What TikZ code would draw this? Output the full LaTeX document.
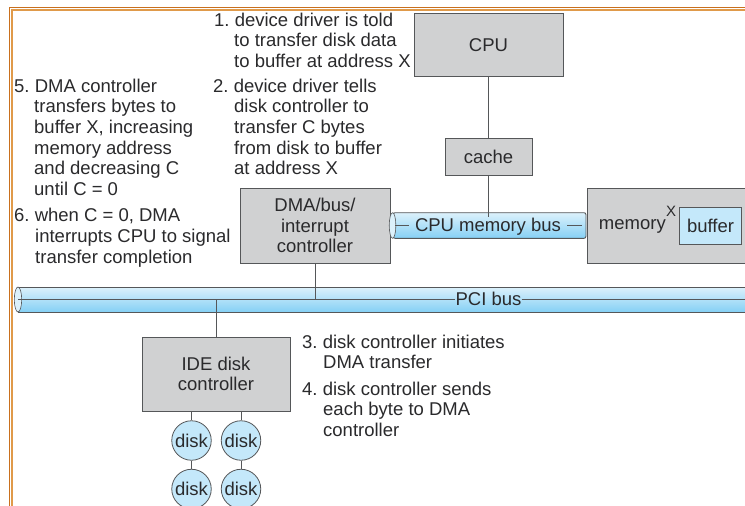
\documentclass[tikz,border=0pt]{standalone}
\usepackage{fontspec}
\setmainfont{Liberation Sans}
\usetikzlibrary{positioning}
\definecolor{framecol}{HTML}{E09A4A}
\definecolor{framedark}{HTML}{C9701E}
\definecolor{boxgray}{HTML}{D0D1D2}
\definecolor{linecol}{HTML}{555759}
\definecolor{diskblue}{HTML}{C4E8FA}
\definecolor{bustop}{HTML}{DCF1FB}
\definecolor{busbot}{HTML}{85D0F5}
\definecolor{textcol}{HTML}{2A2A2C}
\tikzset{
  ctrlbox/.style={draw=linecol,fill=boxgray,line width=0.9pt,align=center,inner sep=0pt,text=textcol,font=\fontsize{18.5}{20.7}\selectfont},
  busbar/.style={draw=linecol,line width=0.9pt,inner sep=0pt,top color=bustop,bottom color=busbot},
  buslabel/.style={inner sep=0pt,text=textcol,font=\fontsize{18.5}{20.7}\selectfont},
  disknode/.style={circle,draw=linecol,fill=diskblue,line width=0.8pt,minimum size=39.5pt,inner sep=0pt,text=textcol,font=\fontsize{18.5}{20.7}\selectfont},
  wire/.style={draw=linecol,line width=0.9pt},
  steptext/.style={anchor=north west,inner sep=0pt,align=left,text=textcol,font=\fontsize{18.5}{20.6}\selectfont\frenchspacing}
}
\begin{document}
\begin{tikzpicture}[x=1pt,y=-1pt]
\useasboundingbox (0,0) rectangle (745,506);
\fill[white] (0,0) rectangle (745,506);

% Frame
\draw[framedark,line width=1pt] (745,7.3) -- (9.8,7.3) -- (9.8,506);
\draw[framecol,line width=2pt] (745,10) -- (12,10) -- (12,506);

% Boxes
\node[ctrlbox,minimum width=149pt,minimum height=63pt] (cpu) at (488.5,44.8) {CPU};
\node[ctrlbox,minimum width=87pt,minimum height=37pt] (cache) at (488.5,156.5) {cache};
\node[ctrlbox,minimum width=150pt,minimum height=75pt] (dma) at (315,225.5) {DMA/bus/\\interrupt\\controller};
\node[ctrlbox,minimum width=148pt,minimum height=74pt] (ide) at (216,374) {IDE disk\\controller};
\node[ctrlbox,anchor=west,minimum width=170pt,minimum height=75pt] (memory) at (587,225.5) {};
\node[ctrlbox,fill=diskblue,minimum width=62.5pt,minimum height=37pt] (buffer) at (710.5,225.5) {buffer};
\node[buslabel,anchor=east] (memlabel) at (666,226.5) {memory};
\node[buslabel,font=\fontsize{15}{18}\selectfont,anchor=south] (xmark) at (671,216.5) {X};

% Buses
\node[busbar,rounded corners=2pt,minimum width=193pt,minimum height=25.6pt] (cpubus) at (489.5,225.5) {};
\draw[linecol,line width=0.6pt,fill=bustop] (cpubus.west) ellipse (3.3pt and 12.8pt);
\node[buslabel] (cpulabel) at (488,226.3) {CPU memory bus};
\node[busbar,anchor=west,minimum width=740pt,minimum height=25pt] (pcibus) at (18,299.5) {};
\draw[linecol,line width=0.6pt,fill=bustop] (pcibus.west) ellipse (3.7pt and 12.5pt);
\node[buslabel] (pcilabel) at (488.5,299) {PCI bus};

% Bus wires
\coordinate (cpustubl) at (395,225);
\coordinate (cpustubr) at (582,225);
\coordinate (pciend) at (745,299.5);
\draw[wire] (cpustubl) -- ([xshift=-6pt]cpulabel.west |- cpustubl);
\draw[wire] ([xshift=6pt]cpulabel.east |- cpustubr) -- (cpustubr);
\draw[wire] (pcibus.west) -- (pcibus.west -| pcilabel.west);
\draw[wire] (pcibus.east -| pcilabel.east) -- (pciend);

% Connections
\draw[wire] (cpu) -- (cache);
\draw[wire] (cache.south) -- (cache.south |- cpulabel.north);
\draw[wire] (dma.south) -- (dma.south |- pcibus.center);
\draw[wire] (ide.north) -- (ide.north |- pcibus.center);

% Disks
\foreach \name/\xpos/\ypos in {diska/191.5/440.5,diskb/241/440.5,diskc/191.5/489,diskd/241/489} {
  \node[disknode] (\name) at (\xpos,\ypos) {disk};
}
\draw[wire] (ide.south -| diska) -- (diska);
\draw[wire] (ide.south -| diskb) -- (diskb);
\draw[wire] (diska) -- (diskc);
\draw[wire] (diskb) -- (diskd);

% Steps
\node[steptext] (stepa) at (214,12.6) {1. device driver is told\\\hspace{20pt}to transfer disk data\\\hspace{20pt}to buffer at address X};
\node[steptext] (stepb) at (213,78.6) {2. device driver tells\\\hspace{21pt}disk controller to\\\hspace{21pt}transfer C bytes\\\hspace{21pt}from disk to buffer\\\hspace{21pt}at address X};
\node[steptext] (stepc) at (302,334.6) {3. disk controller initiates\\\hspace{21pt}DMA transfer};
\node[steptext] (stepd) at (302,381.6) {4. disk controller sends\\\hspace{21pt}each byte to DMA\\\hspace{21pt}controller};
\node[steptext] (stepe) at (14,78.6) {5. DMA controller\\\hspace{20pt}transfers bytes to\\\hspace{20pt}buffer X, increasing\\\hspace{20pt}memory address\\\hspace{20pt}and decreasing C\\\hspace{20pt}until C = 0};
\node[steptext] (stepf) at (14,208.3) {6. when C = 0, DMA\\\hspace{21pt}interrupts CPU to signal\\\hspace{21pt}transfer completion};
\end{tikzpicture}
\end{document}
